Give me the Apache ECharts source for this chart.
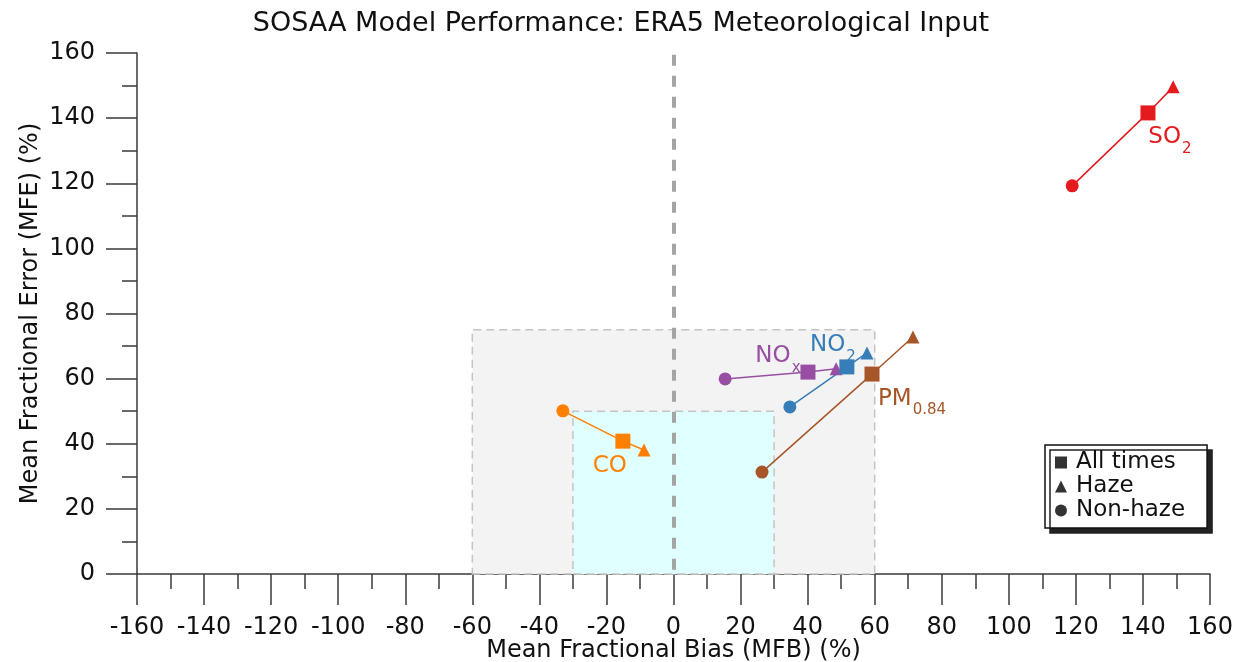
<!DOCTYPE html>
<html><head><meta charset="utf-8">
<script src="https://cdn.jsdelivr.net/npm/echarts@6/dist/echarts.min.js"></script>
<style>html,body{margin:0;padding:0;background:#fff;overflow:hidden}#c{width:1242px;height:662px}</style>
</head><body><div id="c"></div>
<script>
// ---- data ----
const species = ['CO', 'NOx', 'NO2', 'PM0.84', 'SO2'];
const speciesLabels = ['{m|CO}', '{m|NO}{s|x}', '{m|NO}{s|2}', '{m|PM}{s|0.84}', '{m|SO}{s|2}'];
const nonhazeMFB = [-33.0, 15.4, 34.7, 26.4, 118.9];
const nonhazeMFE = [50.1, 59.9, 51.3, 31.3, 119.2];
const allMFB = [-15.1, 40.1, 51.7, 59.2, 141.5];
const allMFE = [40.8, 62.0, 63.6, 61.4, 141.6];
const hazeMFB = [-8.8, 48.5, 57.7, 71.4, 149.0];
const hazeMFE = [38.1, 63.0, 67.9, 72.8, 149.6];
const goalBox = [[-60, 0], [60, 75]];
const criteriaBox = [[-30, 0], [30, 50]];
const legendNames = ['All times', 'Haze', 'Non-haze'];

// ---- style ----
const colors = ['#ff7f00', '#984ea3', '#377eb8', '#a65628', '#e41a1c'];
const labelOffsets = [[-13, 21], [-30, -20], [-14, -25], [40, 21], [22, 21]];
const FONT = 'DejaVu Sans';

const series = species.map((name, i) => ({
  type: 'line',
  name: name,
  z: 3,
  lineStyle: { color: colors[i], width: 1.5 },
  itemStyle: { color: colors[i] },
  symbolKeepAspect: true,
  data: [
    { value: [nonhazeMFB[i], nonhazeMFE[i]], symbol: 'circle', symbolSize: 13 },
    { value: [allMFB[i], allMFE[i]], symbol: 'rect', symbolSize: 15,
      label: { show: true, position: 'inside', offset: labelOffsets[i], formatter: speciesLabels[i],
        rich: {
          m: { fontFamily: FONT, fontSize: 23, color: colors[i], lineHeight: 30, verticalAlign: 'bottom' },
          s: { fontFamily: FONT, fontSize: 15, color: colors[i], lineHeight: 30, verticalAlign: 'bottom', padding: [0, 0, -8, 1] }
        } } },
    { value: [hazeMFB[i], hazeMFE[i]], symbol: 'triangle', symbolSize: 13 }
  ],
  silent: true,
  animation: false
}));

// background boxes and zero line
series.unshift({
  type: 'line', name: 'bg', data: [], z: -1, silent: true, animation: false,
  markArea: {
    silent: true,
    data: [
      [{ coord: goalBox[0], itemStyle: { color: '#f3f3f3', borderColor: '#c4c4c4', borderWidth: 1.5, borderType: [8, 5] } }, { coord: goalBox[1] }],
      [{ coord: criteriaBox[0], itemStyle: { color: '#e0ffff', borderColor: '#c4c4c4', borderWidth: 1.5, borderType: [8, 5] } }, { coord: criteriaBox[1] }]
    ]
  },
  markLine: {
    silent: true, symbol: 'none', label: { show: false },
    lineStyle: { color: '#a4a4a4', width: 4, type: [11, 10] },
    data: [[{ coord: [0, 159.5] }, { coord: [0, 0] }]]
  }
});

// dummy legend series
const legendIcons = ['rect', 'triangle', 'circle'];
legendNames.forEach((n, k) => series.push({ type: 'scatter', name: n, data: [], symbol: legendIcons[k], itemStyle: { color: '#000' } }));

const axisCommon = {
  type: 'value', interval: 20,
  axisLine: { show: true, onZero: false, lineStyle: { color: '#3a3a3a', width: 1.5 } },
  axisTick: { show: true, length: 31, lineStyle: { color: '#3a3a3a', width: 1.5 } },
  minorTick: { show: true, splitNumber: 2, length: 15, lineStyle: { color: '#3a3a3a', width: 1.5 } },
  splitLine: { show: false },
  axisLabel: { fontFamily: FONT, fontSize: 24, color: '#111', margin: 42 },
  nameLocation: 'middle',
  nameMoveOverlap: false,
  nameTextStyle: { fontFamily: FONT, fontSize: 24, color: '#111' }
};

const chart = echarts.init(document.getElementById('c'));
chart.setOption({
  animation: false,
  backgroundColor: '#fff',
  title: { text: 'SOSAA Model Performance: ERA5 Meteorological Input', left: 'center', top: 5,
    textStyle: { fontFamily: FONT, fontSize: 27, fontWeight: 'normal', color: '#111' } },
  grid: { left: 137, right: 32, top: 53, bottom: 88, outerBoundsMode: 'none', containLabel: false },
  xAxis: Object.assign({}, axisCommon, { min: -160, max: 160, name: 'Mean Fractional Bias (MFB) (%)', nameGap: 65 }),
  yAxis: Object.assign({}, axisCommon, { min: 0, max: 160, name: 'Mean Fractional Error (MFE) (%)', nameGap: 94 }),
  legend: {
    orient: 'vertical', left: 1045, top: 445,
    data: legendNames.map((n, k) => ({ name: n, icon: legendIcons[k] })),
    itemWidth: 12, itemHeight: 12, itemGap: 1,
    padding: [6, 22, 6, 10],
    backgroundColor: '#fff', borderColor: '#111', borderWidth: 1.5, borderRadius: 0,
    shadowColor: '#222', shadowBlur: 0, shadowOffsetX: 5, shadowOffsetY: 5,
    textStyle: { fontFamily: FONT, fontSize: 23, color: '#111', padding: [0, 0, 0, 4] },
    selectedMode: false
  },
  series: series
});
</script></body></html>
